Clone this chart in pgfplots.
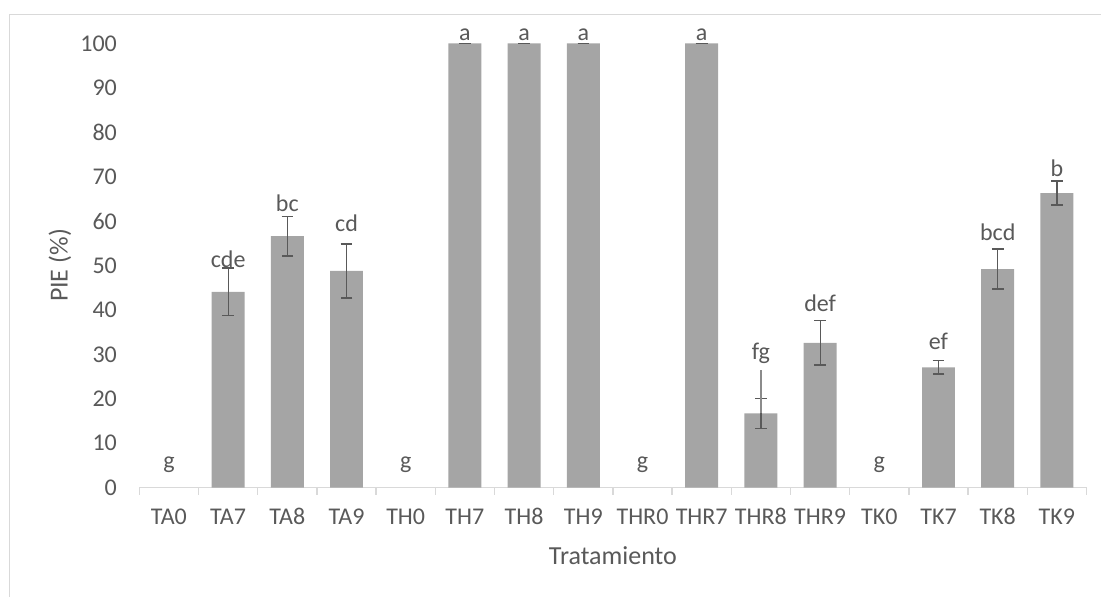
\documentclass[border=0pt]{standalone}
\usepackage{pgfplots}
\pgfplotsset{compat=1.18}
\usepackage{fontspec}
\setmainfont{Carlito}
\definecolor{barcol}{HTML}{A5A5A5}
\definecolor{errcol}{HTML}{595959}
\definecolor{txtcol}{HTML}{595959}
\definecolor{axcol}{HTML}{D9D9D9}
\begin{document}
\begin{tikzpicture}
\begin{axis}[
  at={(0pt,0pt)}, anchor=south west,
  scale only axis, width=473.6pt, height=222.15pt,
  xmin=-0.5, xmax=15.5, ymin=0, ymax=100,
  clip=false,
  axis line style={draw=none},
  tick style={draw=none},
  major tick length=0pt,
  xtick={0,1,2,3,4,5,6,7,8,9,10,11,12,13,14,15},
  xticklabels={TA0,TA7,TA8,TA9,TH0,TH7,TH8,TH9,THR0,THR7,THR8,THR9,TK0,TK7,TK8,TK9},
  ytick={0,10,20,30,40,50,60,70,80,90,100},
  /pgf/number format/assume math mode=true,
  xticklabel style={anchor=base, yshift=-18.5pt, inner sep=0pt, font=\fontsize{12}{14}\selectfont, text=txtcol},
  yticklabel style={anchor=east, inner sep=0pt, xshift=-11pt, font=\fontsize{12}{14}\selectfont, text=txtcol},
  xlabel={Tratamiento}, ylabel={PIE (\%)},
  every axis x label/.style={at={(axis description cs:0.5,-0.1537)}, anchor=center, font=\fontsize{13}{15}\selectfont, text=txtcol},
  every axis y label/.style={at={(axis description cs:-0.0837,0.5)}, rotate=90, anchor=center, font=\fontsize{13}{15}\selectfont, text=txtcol},
]
% category boundary ticks and baseline
\draw[axcol, line width=0.75pt] (axis cs:-0.5,0) -- (axis cs:15.5,0);
\pgfplotsinvokeforeach{-0.5,0.5,1.5,2.5,3.5,4.5,5.5,6.5,7.5,8.5,9.5,10.5,11.5,12.5,13.5,14.5,15.5}{
  \draw[axcol, line width=0.75pt] (axis cs:#1,0) -- ++(0pt,-3.5pt);
}
\addplot[ybar, bar width=0.557, fill=barcol, draw=none,
  error bars/.cd, y dir=both, y explicit,
  error bar style={draw=errcol, line width=0.6pt},
  error mark options={draw=errcol, mark size=2.9pt, line width=0.8pt, rotate=90}]
  coordinates {
  (1,44.1) +- (0,5.3)
  (2,56.6) +- (0,4.4)
  (3,48.8) +- (0,6.1)
  (5,100) +- (0,0)
  (6,100) +- (0,0)
  (7,100) +- (0,0)
  (9,100) +- (0,0)
  (10,16.7) +- (0,3.4)
  (11,32.6) +- (0,5.0)
  (13,27.1) +- (0,1.5)
  (14,49.2) +- (0,4.5)
  (15,66.3) +- (0,2.7)
  };
% extra upper line on THR8
\addplot[draw=none, mark=none, forget plot,
  error bars/.cd, y dir=plus, y explicit, error mark=none,
  error bar style={draw=errcol!70, line width=0.6pt}]
  coordinates {(10,16.7) +- (0,9.9)};
% significance letters
\begin{scope}[every node/.style={font=\fontsize{12}{14}\selectfont, text=txtcol, anchor=center, inner sep=0pt}]
\node at (axis cs:0,5.1) {g};
\node at (axis cs:1,51.4) {cde};
\node at (axis cs:2,64.0) {bc};
\node at (axis cs:3,59.5) {cd};
\node at (axis cs:4,5.1) {g};
\node at (axis cs:5,101.9) {a};
\node at (axis cs:6,101.9) {a};
\node at (axis cs:7,101.9) {a};
\node at (axis cs:8,5.1) {g};
\node at (axis cs:9,101.9) {a};
\node at (axis cs:10,30.3) {fg};
\node at (axis cs:11,41.5) {def};
\node at (axis cs:12,5.1) {g};
\node at (axis cs:13,32.9) {ef};
\node at (axis cs:14,57.6) {bcd};
\node at (axis cs:15,71.9) {b};
\end{scope}
\end{axis}
\draw[axcol, line width=0.5pt] (-64.65pt,-60pt) -- (-64.65pt,236.35pt) -- (490pt,236.35pt);
\pgfresetboundingbox
\path[use as bounding box] (-69.65pt,-54.65pt) rectangle (480.85pt,243.85pt);
\end{tikzpicture}
\end{document}
